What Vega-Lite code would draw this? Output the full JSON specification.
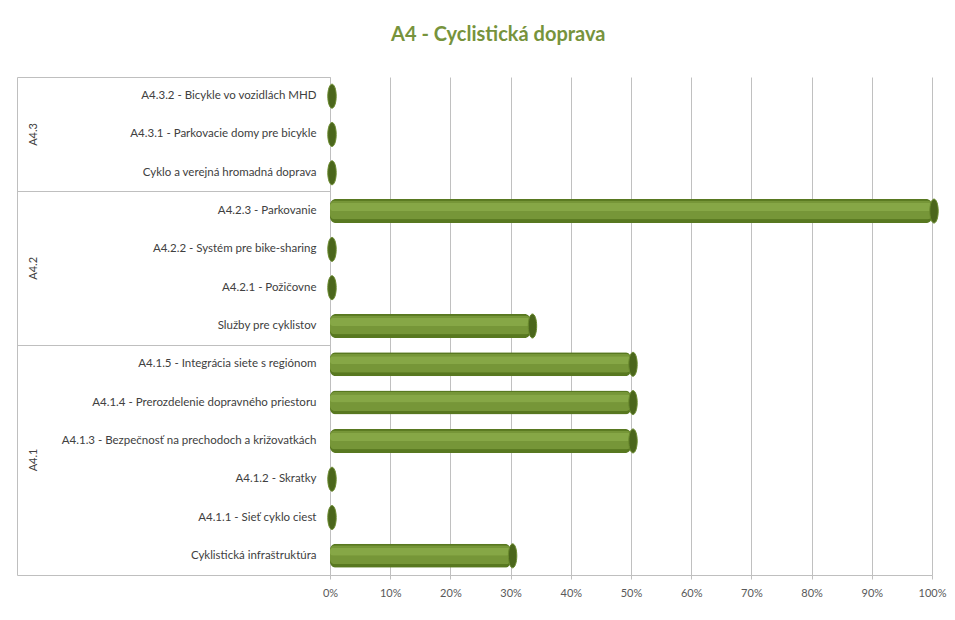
{
  "$schema": "https://vega.github.io/schema/vega-lite/v6.json",
  "width": 602,
  "height": 498,
  "autosize": {"type": "none"},
  "padding": {"left": 330, "top": 77, "right": 23, "bottom": 45},
  "background": "white",
  "title": {
    "text": "A4 - Cyclistická doprava",
    "font": "Lato",
    "fontSize": 20,
    "fontWeight": "bold",
    "color": "#77933c",
    "anchor": "middle",
    "frame": "bounds",
    "offset": 32,
    "dx": 17
  },
  "config": {
    "view": {"stroke": null},
    "axis": {"labelFont": "Lato", "titleFont": "Lato"}
  },
  "data": {
    "values": [
      {"group": "A4.3", "label": "A4.3.2 - Bicykle vo vozidlách MHD", "value": 0},
      {"group": "A4.3", "label": "A4.3.1 - Parkovacie domy pre bicykle", "value": 0},
      {"group": "A4.3", "label": "Cyklo a verejná hromadná doprava", "value": 0},
      {"group": "A4.2", "label": "A4.2.3 - Parkovanie", "value": 1},
      {"group": "A4.2", "label": "A4.2.2 - Systém pre bike-sharing", "value": 0},
      {"group": "A4.2", "label": "A4.2.1 - Požičovne", "value": 0},
      {"group": "A4.2", "label": "Služby pre cyklistov", "value": 0.333},
      {"group": "A4.1", "label": "A4.1.5 - Integrácia siete s regiónom", "value": 0.5},
      {"group": "A4.1", "label": "A4.1.4 - Prerozdelenie dopravného priestoru", "value": 0.5},
      {"group": "A4.1", "label": "A4.1.3 - Bezpečnosť na prechodoch a križovatkách", "value": 0.5},
      {"group": "A4.1", "label": "A4.1.2 - Skratky", "value": 0},
      {"group": "A4.1", "label": "A4.1.1 - Sieť cyklo ciest", "value": 0},
      {"group": "A4.1", "label": "Cyklistická infraštruktúra", "value": 0.3}
    ]
  },
  "layer": [
    {
      "mark": {"type": "bar", "size": 24, "color": "#587820", "cornerRadius": 6},
      "encoding": {
        "y": {
          "field": "label", "type": "nominal", "sort": null,
          "scale": {"paddingInner": 0, "paddingOuter": 0},
          "axis": {
            "orient": "left",
            "title": null, "ticks": false, "domain": true, "domainColor": "#bfbfbf",
            "labelPadding": 14, "labelFontSize": 11.5, "labelColor": "#404040", "labelLimit": 320, "grid": false
          }
        },
        "x": {
          "field": "value", "type": "quantitative",
          "scale": {"domain": [0, 1], "nice": false},
          "axis": {
            "title": null, "format": ".0%", "values": [0, 0.1, 0.2, 0.3, 0.4, 0.5, 0.6, 0.7, 0.8, 0.9, 1],
            "grid": true, "gridColor": "#c0c0c0", "domainColor": "#bfbfbf",
            "ticks": true, "tickSize": 4, "tickColor": "#bfbfbf", "labelFlush": false,
            "labelPadding": 8, "labelFontSize": 11, "labelColor": "#595959"
          }
        }
      }
    },
    {
      "mark": {"type": "bar", "size": 19, "color": "#769638", "cornerRadius": 5, "yOffset": -1},
      "encoding": {
        "y": {"field": "label", "type": "nominal", "sort": null, "axis": null},
        "x": {"field": "value", "type": "quantitative"}
      }
    },
    {
      "mark": {"type": "bar", "size": 8, "color": "#86a746", "cornerRadius": 3, "yOffset": -4},
      "encoding": {
        "y": {"field": "label", "type": "nominal", "sort": null, "axis": null},
        "x": {"field": "value", "type": "quantitative"}
      }
    },
    {
      "mark": {
        "type": "point",
        "shape": "M0,-1 A0.35,1 0 1,1 0,1 A0.35,1 0 1,1 0,-1 Z",
        "size": 576, "filled": true, "color": "#4b661c", "opacity": 1,
        "stroke": "#6a8a2e", "strokeWidth": 1, "xOffset": 2
      },
      "encoding": {
        "y": {
          "field": "label", "type": "nominal", "sort": null,
          "axis": {
            "orient": "left",
            "title": null, "labels": false, "domain": false, "grid": false,
            "ticks": true, "tickSize": 313, "tickColor": "#bfbfbf", "bandPosition": 0,
            "values": ["A4.3.2 - Bicykle vo vozidlách MHD", "A4.2.3 - Parkovanie", "A4.1.5 - Integrácia siete s regiónom"]
          }
        },
        "x": {"field": "value", "type": "quantitative"}
      }
    },
    {
      "mark": {"type": "point", "opacity": 0},
      "encoding": {
        "y": {
          "field": "label", "type": "nominal", "sort": null,
          "axis": {
            "orient": "left",
            "title": null, "labels": false, "domain": false, "grid": false,
            "ticks": true, "tickSize": 313, "tickColor": "#bfbfbf", "bandPosition": 1,
            "values": ["Cyklistická infraštruktúra"]
          }
        },
        "x": {"field": "value", "type": "quantitative"}
      }
    },
    {
      "mark": {"type": "point", "opacity": 0},
      "encoding": {
        "y": {
          "field": "label", "type": "nominal", "sort": null,
          "axis": {
            "orient": "left",
            "title": null, "offset": 313, "domain": true, "domainColor": "#bfbfbf",
            "ticks": false, "grid": false,
            "values": ["A4.3.1 - Parkovacie domy pre bicykle", "A4.2.2 - Systém pre bike-sharing", "A4.1.3 - Bezpečnosť na prechodoch a križovatkách"],
            "labelExpr": "substring(datum.value, 0, 4)",
            "labelAngle": -90, "labelAlign": "center", "labelBaseline": "top",
            "labelPadding": -10, "labelFontSize": 11, "labelColor": "#404040",
            "labelOffset": {"condition": {"test": "indexof(datum.value, 'A4.3') == 0", "value": 0}, "value": 19}
          }
        },
        "x": {"field": "value", "type": "quantitative"}
      }
    }
  ],
  "resolve": {"axis": {"y": "independent"}}
}
